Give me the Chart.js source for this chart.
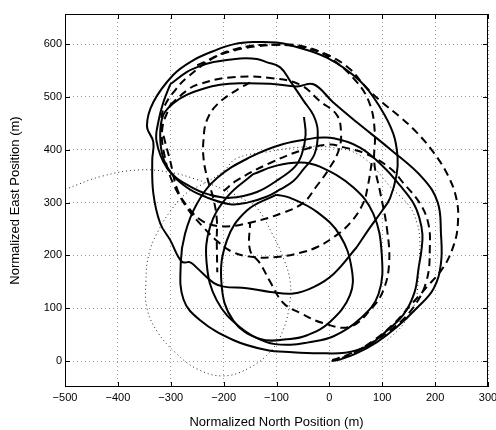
<!DOCTYPE html>
<html>
<head>
<meta charset="utf-8">
<script src="https://cdn.jsdelivr.net/npm/chart.js@4/dist/chart.umd.min.js"></script>
<style>
  html, body { margin: 0; padding: 0; background: #fff; }
</style>
</head>
<body>
<canvas id="chart" width="496" height="430"></canvas>
<script>
// axis ticks
const xTicks = [-500, -400, -300, -200, -100, 0, 100, 200, 300];
const yTicks = [0, 100, 200, 300, 400, 500, 600];

// solid trajectories [north, east]
const solidOuter = [[52,216],[8,165],[-30,140],[-68,128],[-112,131],[-156,138],[-200,141],[-219,148],[-250,176],[-263,187],[-279,188],[-301,229],[-320,261],[-333,318],[-335,380],[-333,415],[-345,445],[-333,490],[-295,542],[-260,568],[-219,587],[-180,600],[-137,604],[-100,603],[-74,598],[-4,574],[58,530],[96,480],[121,430],[129,386],[127,352],[115,309],[100,285],[77,253],[52,216]];
const solidInner = [[-301,524],[-270,547],[-251,556],[-219,566],[-169,573],[-137,572],[-119,566],[-93,556],[-74,530],[-49,493],[-30,465],[-22,435],[-28,392],[-50,362],[-68,341],[-93,325],[-119,311],[-155,300],[-188,297],[-232,310],[-270,329],[-308,367],[-327,417],[-323,455],[-314,490],[-301,524]];
const solidLong = [[-48,462],[-45,428],[-52,392],[-65,368],[-93,346],[-137,320],[-188,309],[-230,316],[-262,330],[-295,352],[-314,384],[-320,428],[-314,466],[-295,488],[-270,504],[-240,515],[-207,523],[-169,526],[-112,525],[-61,520],[-30,524],[7,490],[52,452],[115,401],[177,346],[205,300],[211,242],[211,185],[197,137],[165,100],[127,64],[90,36],[50,14],[20,3],[4,0]];
const solidLoopA = [[-24,423],[8,422],[58,404],[102,368],[134,332],[159,299],[170,272],[176,240],[174,209],[169,178],[161,130],[140,88],[100,50],[71,28],[30,16],[-20,15],[-70,17],[-119,21],[-182,40],[-245,78],[-276,117],[-281,187],[-273,241],[-251,297],[-213,346],[-150,386],[-87,411],[-24,423]];
const solidLoopB = [[-144,354],[-100,370],[-55,376],[-18,368],[45,329],[83,279],[99,203],[93,127],[58,80],[8,47],[-42,35],[-74,31],[-119,36],[-169,64],[-213,115],[-232,184],[-226,253],[-194,310],[-144,354]];
const solidLoopC = [[-100,315],[-74,309],[-23,282],[20,238],[42,176],[39,125],[1,74],[-42,49],[-74,42],[-131,42],[-182,77],[-204,146],[-194,228],[-156,285],[-100,315]];

// dashed trajectories
const dashedLong = [[80,375],[73,333],[64,299],[39,261],[10,236],[-23,216],[-55,205],[-100,197],[-144,197],[-182,206],[-213,228],[-238,253],[-270,291],[-289,329],[-301,379],[-312,420],[-318,450],[-312,482],[-290,515],[-270,536],[-219,574],[-180,588],[-137,596],[-90,599],[-55,597],[0,578],[40,552],[64,524],[96,493],[134,462],[166,432],[197,395],[225,350],[241,304],[243,260],[236,222],[216,178],[184,140],[152,104],[121,70],[85,40],[45,15],[10,1]];
const dashedMid = [[-301,485],[-270,512],[-250,523],[-188,537],[-112,536],[-55,523],[-18,492],[14,466],[22,434],[18,400],[0,365],[-25,330],[-49,300],[-87,281],[-150,262],[-200,255],[-240,265],[-270,295],[-295,335],[-312,390],[-316,440],[-301,485]];
const dashedRight = [[-250,560],[-180,590],[-106,599],[-40,591],[1,574],[52,528],[77,485],[86,431],[85,375],[96,320],[109,250],[113,185],[102,134],[80,100],[39,65],[-12,72],[-55,91],[-87,110],[-112,150],[-131,185],[-150,210],[-150,263]];
const dashedInner = [[-150,527],[-169,517],[-212,486],[-232,455],[-238,420],[-238,384],[-231,347],[-220,310],[-213,270],[-213,230],[-212,168]];
const dashedEast = [[-200,322],[-175,342],[-112,375],[-49,400],[0,410],[26,405],[70,392],[115,365],[140,337],[171,299],[187,261],[190,216],[184,153],[159,102],[120,62],[75,32],[30,10],[5,2]];

// dotted trajectory
const dottedPath = [[-500,325],[-430,350],[-358,362],[-300,357],[-255,345],[-200,325],[-160,305],[-137,290],[-107,239],[-85,190],[-74,150],[-75,110],[-87,60],[-110,20],[-150,-12],[-200,-28],[-250,-15],[-290,15],[-325,55],[-345,100],[-347,150],[-342,200],[-326,242],[-300,285],[-270,318],[-230,340],[-200,360],[-175,384],[-112,397],[-55,405],[0,405],[60,388],[120,325],[150,295],[166,261],[171,229],[170,190],[168,153],[162,110],[140,70],[110,40]];

const toPts = arr => arr.map(p => ({ x: p[0], y: p[1] }));
const font = 'Liberation Sans, Arial, Helvetica, sans-serif';

function solid(data) {
  return { data: toPts(data), showLine: true, borderColor: '#000', borderWidth: 2, pointRadius: 0, tension: 0.4, fill: false };
}
function dashed(data) {
  return { data: toPts(data), showLine: true, borderColor: '#000', borderWidth: 2, borderDash: [8, 5], pointRadius: 0, tension: 0.4, fill: false };
}

// black box + inward tick marks like matlab
const frame = {
  id: 'frame',
  afterDatasetsDraw(chart) {
    const { ctx, chartArea: a, scales: { x, y } } = chart;
    ctx.save();
    ctx.strokeStyle = '#000';
    ctx.lineWidth = 1;
    ctx.setLineDash([]);
    ctx.strokeRect(a.left + 0.5, a.top + 0.5, a.right - a.left - 1, a.bottom - a.top - 1);
    ctx.beginPath();
    xTicks.forEach(v => {
      const px = Math.round(x.getPixelForValue(v)) + 0.5;
      ctx.moveTo(px, a.bottom); ctx.lineTo(px, a.bottom - 5);
      ctx.moveTo(px, a.top); ctx.lineTo(px, a.top + 5);
    });
    yTicks.forEach(v => {
      const py = Math.round(y.getPixelForValue(v)) + 0.5;
      ctx.moveTo(a.left, py); ctx.lineTo(a.left + 5, py);
      ctx.moveTo(a.right, py); ctx.lineTo(a.right - 5, py);
    });
    ctx.stroke();
    ctx.restore();
  }
};

new Chart(document.getElementById('chart'), {
  type: 'scatter',
  data: {
    datasets: [
      { data: toPts(dottedPath), showLine: true, borderColor: '#222', borderWidth: 1, borderDash: [1, 3], pointRadius: 0, tension: 0.4, fill: false },
      dashed(dashedLong),
      dashed(dashedMid),
      dashed(dashedRight),
      dashed(dashedInner),
      dashed(dashedEast),
      solid(solidOuter),
      solid(solidInner),
      solid(solidLong),
      solid(solidLoopA),
      solid(solidLoopB),
      solid(solidLoopC)
    ]
  },
  plugins: [frame],
  options: {
    responsive: false,
    animation: false,
    layout: { padding: { top: 14, right: 8, left: 0, bottom: 0 } },
    plugins: { legend: { display: false }, tooltip: { enabled: false } },
    scales: {
      x: {
        type: 'linear',
        min: -500, max: 300,
        afterBuildTicks: s => { s.ticks = xTicks.map(v => ({ value: v })); },
        afterFit: s => { s.height = 43; s.paddingLeft = 0; s.paddingRight = 0; },
        grid: { color: '#999', lineWidth: 1, drawTicks: false },
        border: { display: false, dash: [1, 3] },
        ticks: {
          padding: 4, color: '#000', font: { family: font, size: 11 }, maxRotation: 0,
          callback: v => String(v).replace('-', '\u2212')
        },
        title: { display: true, text: 'Normalized North Position (m)', color: '#000', font: { family: font, size: 13 }, padding: { top: 0, bottom: 0 } }
      },
      y: {
        type: 'linear',
        min: -49, max: 657,
        afterBuildTicks: s => { s.ticks = yTicks.map(v => ({ value: v })); },
        afterFit: s => { s.width = 65; },
        grid: { color: '#999', lineWidth: 1, drawTicks: false },
        border: { display: false, dash: [1, 3] },
        ticks: { padding: 3, color: '#000', font: { family: font, size: 11 } },
        title: { display: true, text: 'Normalized East Position (m)', color: '#000', font: { family: font, size: 13 }, padding: { top: 8, bottom: 0 } }
      }
    }
  }
});
</script>
</body>
</html>
